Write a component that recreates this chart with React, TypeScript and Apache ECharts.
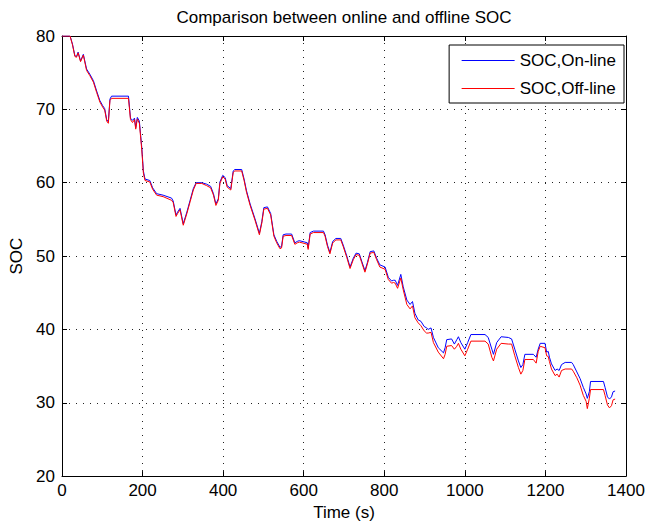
import React, { useEffect, useRef } from "react";
import * as echarts from "echarts";

const titleText = "Comparison between online and offline SOC";
const xName = "Time (s)";
const yName = "SOC";
const seriesNames = ["SOC,On-line", "SOC,Off-line"];

const times = [
  0, 20, 26, 32, 36, 40, 46, 53, 61, 69, 78, 86, 94, 101, 106, 111, 115, 119, 123, 165,
  170, 175, 180, 183, 187, 192, 198, 202, 206, 218, 225, 235, 251, 272, 276, 283, 287, 293, 301, 310,
  318, 326, 333, 347, 359, 369, 376, 382, 388, 392, 399, 405, 410, 419, 425, 429, 446, 452, 458, 467,
  479, 490, 496, 501, 510, 518, 526, 533, 541, 545, 549, 556, 570, 578, 584, 589, 603, 609, 611, 616,
  624, 649, 653, 659, 665, 672, 680, 692, 698, 707, 715, 723, 730, 738, 744, 752, 758, 765, 774, 781,
  789, 802, 810, 818, 823, 827, 833, 841, 847, 856, 864, 870, 876, 884, 891, 899, 905, 909, 916, 922,
  934, 947, 951, 955, 967, 974, 980, 984, 990, 1000, 1007, 1015, 1050, 1058, 1067, 1071, 1079, 1090, 1108, 1116,
  1124, 1133, 1139, 1144, 1149, 1170, 1177, 1182, 1187, 1199, 1203, 1207, 1210, 1215, 1224, 1229, 1234, 1240, 1249, 1265,
  1269, 1278, 1286, 1294, 1301, 1304, 1309, 1312, 1344, 1348, 1354, 1359, 1364, 1368, 1373,
];

const onlineSOC = [
  80.0, 80.0, 78.9, 77.3, 77.2, 77.8, 76.6, 77.5, 75.5, 74.8, 73.9, 72.5, 71.2, 70.5, 70.1, 68.6, 68.3, 71.4, 71.8, 71.8,
  68.8, 68.5, 68.8, 67.5, 68.9, 68.4, 64.8, 61.6, 60.5, 60.3, 59.3, 58.5, 58.3, 57.9, 57.5, 55.6, 56.0, 56.5, 54.4, 56.0,
  57.6, 59.2, 60.0, 60.0, 59.8, 59.5, 58.5, 57.1, 57.8, 60.1, 61.0, 60.7, 59.6, 59.2, 61.6, 61.8, 61.8, 60.5, 58.9, 57.1,
  55.1, 53.1, 54.7, 56.6, 56.7, 55.8, 52.9, 52.0, 51.2, 51.3, 52.9, 53.0, 53.0, 51.8, 52.0, 52.1, 51.9, 51.8, 51.1, 53.2,
  53.4, 53.4, 52.9, 51.5, 50.5, 52.0, 52.4, 52.4, 51.5, 50.0, 48.5, 49.7, 50.4, 50.3, 49.3, 48.0, 49.1, 50.6, 50.7, 49.7,
  48.8, 48.5, 47.1, 46.6, 46.7, 46.7, 46.0, 47.5, 45.8, 44.0, 43.4, 43.8, 42.2, 41.3, 41.1, 40.4, 40.2, 40.0, 40.2, 38.9,
  37.5, 36.8, 37.5, 38.6, 38.7, 38.0, 38.6, 39.0, 38.2, 37.3, 38.2, 39.3, 39.3, 38.9, 37.3, 36.6, 38.2, 39.0, 38.9, 38.7,
  37.3, 35.7, 34.8, 35.2, 36.6, 36.6, 36.2, 37.3, 38.1, 38.1, 36.9, 37.0, 36.2, 35.3, 34.4, 34.6, 34.4, 35.2, 35.5, 35.5,
  35.2, 34.2, 33.3, 32.1, 31.2, 30.6, 31.5, 32.9, 32.9, 32.1, 30.8, 30.5, 30.8, 31.5, 31.6,
];

const offlineSOC = [
  80.0, 80.0, 78.8, 77.2, 77.1, 77.7, 76.5, 77.4, 75.3, 74.6, 73.7, 72.3, 71.0, 70.3, 69.9, 68.4, 68.1, 71.2, 71.5, 71.5,
  68.6, 68.2, 68.6, 67.3, 68.7, 68.1, 64.5, 61.3, 60.3, 60.1, 59.1, 58.3, 58.1, 57.6, 57.3, 55.4, 55.8, 56.3, 54.2, 55.8,
  57.4, 59.0, 59.9, 59.9, 59.6, 59.3, 58.3, 56.9, 57.6, 59.9, 60.8, 60.5, 59.4, 59.0, 61.4, 61.6, 61.6, 60.3, 58.7, 56.9,
  54.9, 52.9, 54.5, 56.4, 56.5, 55.6, 52.7, 51.8, 51.0, 51.1, 52.7, 52.8, 52.8, 51.6, 51.8, 51.9, 51.7, 51.6, 50.9, 53.0,
  53.2, 53.2, 52.7, 51.3, 50.3, 51.8, 52.2, 52.2, 51.3, 49.8, 48.3, 49.5, 50.2, 50.1, 49.1, 47.8, 48.9, 50.4, 50.5, 49.5,
  48.5, 48.2, 46.8, 46.3, 46.4, 46.3, 45.6, 47.0, 45.4, 43.4, 42.8, 43.2, 41.6, 40.9, 40.5, 39.8, 39.5, 39.5, 39.6, 38.2,
  36.9, 36.0, 36.6, 37.7, 37.8, 37.3, 37.7, 38.1, 37.3, 36.4, 37.3, 38.4, 38.4, 38.0, 36.2, 35.7, 37.3, 38.1, 38.0, 38.0,
  36.4, 34.8, 33.9, 34.4, 35.9, 35.9, 35.4, 37.0, 37.7, 37.5, 36.4, 36.3, 35.6, 34.6, 33.7, 33.9, 33.5, 34.4, 34.6, 34.6,
  34.3, 33.4, 32.4, 31.0, 30.2, 29.2, 30.6, 31.8, 31.8, 31.0, 29.7, 29.3, 29.6, 30.4, 30.5,
];

const FONT = "'Liberation Sans', Arial, Helvetica, sans-serif";
const TXT = "#000";

export default function App() {
  const ref = useRef<HTMLDivElement>(null);
  useEffect(() => {
    if (!ref.current) return;
    const chart = echarts.init(ref.current, undefined, { renderer: "svg" });
    const gridLine = { show: true, lineStyle: { color: "#222", width: 1, type: [1, 6] as any } };
    const plain = (v: number) => String(v);
    const option: any = {
      animation: false,
      backgroundColor: "#fff",
      graphic: [
        {
          type: "text",
          x: 344,
          y: 17,
          style: {
            text: titleText,
            fill: TXT,
            font: `17px ${FONT}`,
            textAlign: "center",
            textVerticalAlign: "middle",
          },
        },
      ],
      grid: { left: 62, right: 31, top: 36, bottom: 44, show: false },
      legend: {
        right: 33,
        top: 45,
        orient: "vertical",
        backgroundColor: "#fff",
        borderColor: "#000",
        borderWidth: 1,
        borderRadius: 0,
        padding: [7, 8, 6, 12],
        itemGap: 11,
        itemWidth: 53,
        itemHeight: 14,
        itemStyle: { opacity: 0 },
        lineStyle: { width: 1 },
        textStyle: { color: TXT, fontFamily: FONT, fontSize: 17 },
        data: seriesNames,
      },
      xAxis: [
        {
          type: "value",
          min: 0,
          max: 1400,
          interval: 200,
          position: "bottom",
          name: xName,
          nameLocation: "middle",
          nameGap: 25,
          nameTextStyle: { color: TXT, fontFamily: FONT, fontSize: 17 },
          axisLine: { show: true, onZero: false, lineStyle: { color: "#000", width: 1 } },
          axisTick: { show: true, inside: true, length: 5, lineStyle: { color: "#000" } },
          axisLabel: { color: TXT, fontFamily: FONT, fontSize: 17, margin: 6, formatter: plain },
          splitLine: gridLine,
        },
        {
          type: "value",
          min: 0,
          max: 1400,
          interval: 200,
          position: "top",
          axisLine: { show: true, onZero: false, lineStyle: { color: "#000", width: 1 } },
          axisTick: { show: true, inside: true, length: 5, lineStyle: { color: "#000" } },
          axisLabel: { show: false },
          splitLine: { show: false },
        },
      ],
      yAxis: [
        {
          type: "value",
          min: 20,
          max: 80,
          interval: 10,
          position: "left",
          name: yName,
          nameLocation: "middle",
          nameGap: 33,
          nameTextStyle: { color: TXT, fontFamily: FONT, fontSize: 17 },
          axisLine: { show: true, onZero: false, lineStyle: { color: "#000", width: 1 } },
          axisTick: { show: true, inside: true, length: 5, lineStyle: { color: "#000" } },
          axisLabel: { color: TXT, fontFamily: FONT, fontSize: 17, margin: 7, formatter: plain },
          splitLine: gridLine,
        },
        {
          type: "value",
          min: 20,
          max: 80,
          interval: 10,
          position: "right",
          axisLine: { show: true, onZero: false, lineStyle: { color: "#000", width: 1 } },
          axisTick: { show: true, inside: true, length: 5, lineStyle: { color: "#000" } },
          axisLabel: { show: false },
          splitLine: { show: false },
        },
      ],
      series: [
        {
          name: seriesNames[0],
          type: "line",
          xAxisIndex: 0,
          yAxisIndex: 0,
          symbol: "none",
          smooth: false,
          lineStyle: { color: "#0000ff", width: 1 },
          itemStyle: { color: "#0000ff" },
          data: times.map((t, i) => [t, onlineSOC[i]]),
        },
        {
          name: seriesNames[1],
          type: "line",
          xAxisIndex: 0,
          yAxisIndex: 0,
          symbol: "none",
          smooth: false,
          lineStyle: { color: "#ff0000", width: 1 },
          itemStyle: { color: "#ff0000" },
          data: times.map((t, i) => [t, offlineSOC[i]]),
        },
      ],
    };
    chart.setOption(option);
    return () => chart.dispose();
  }, []);
  return (
    <div
      ref={ref}
      style={{ position: "fixed", left: 0, top: 0, width: 657, height: 526, background: "#fff" }}
    />
  );
}
